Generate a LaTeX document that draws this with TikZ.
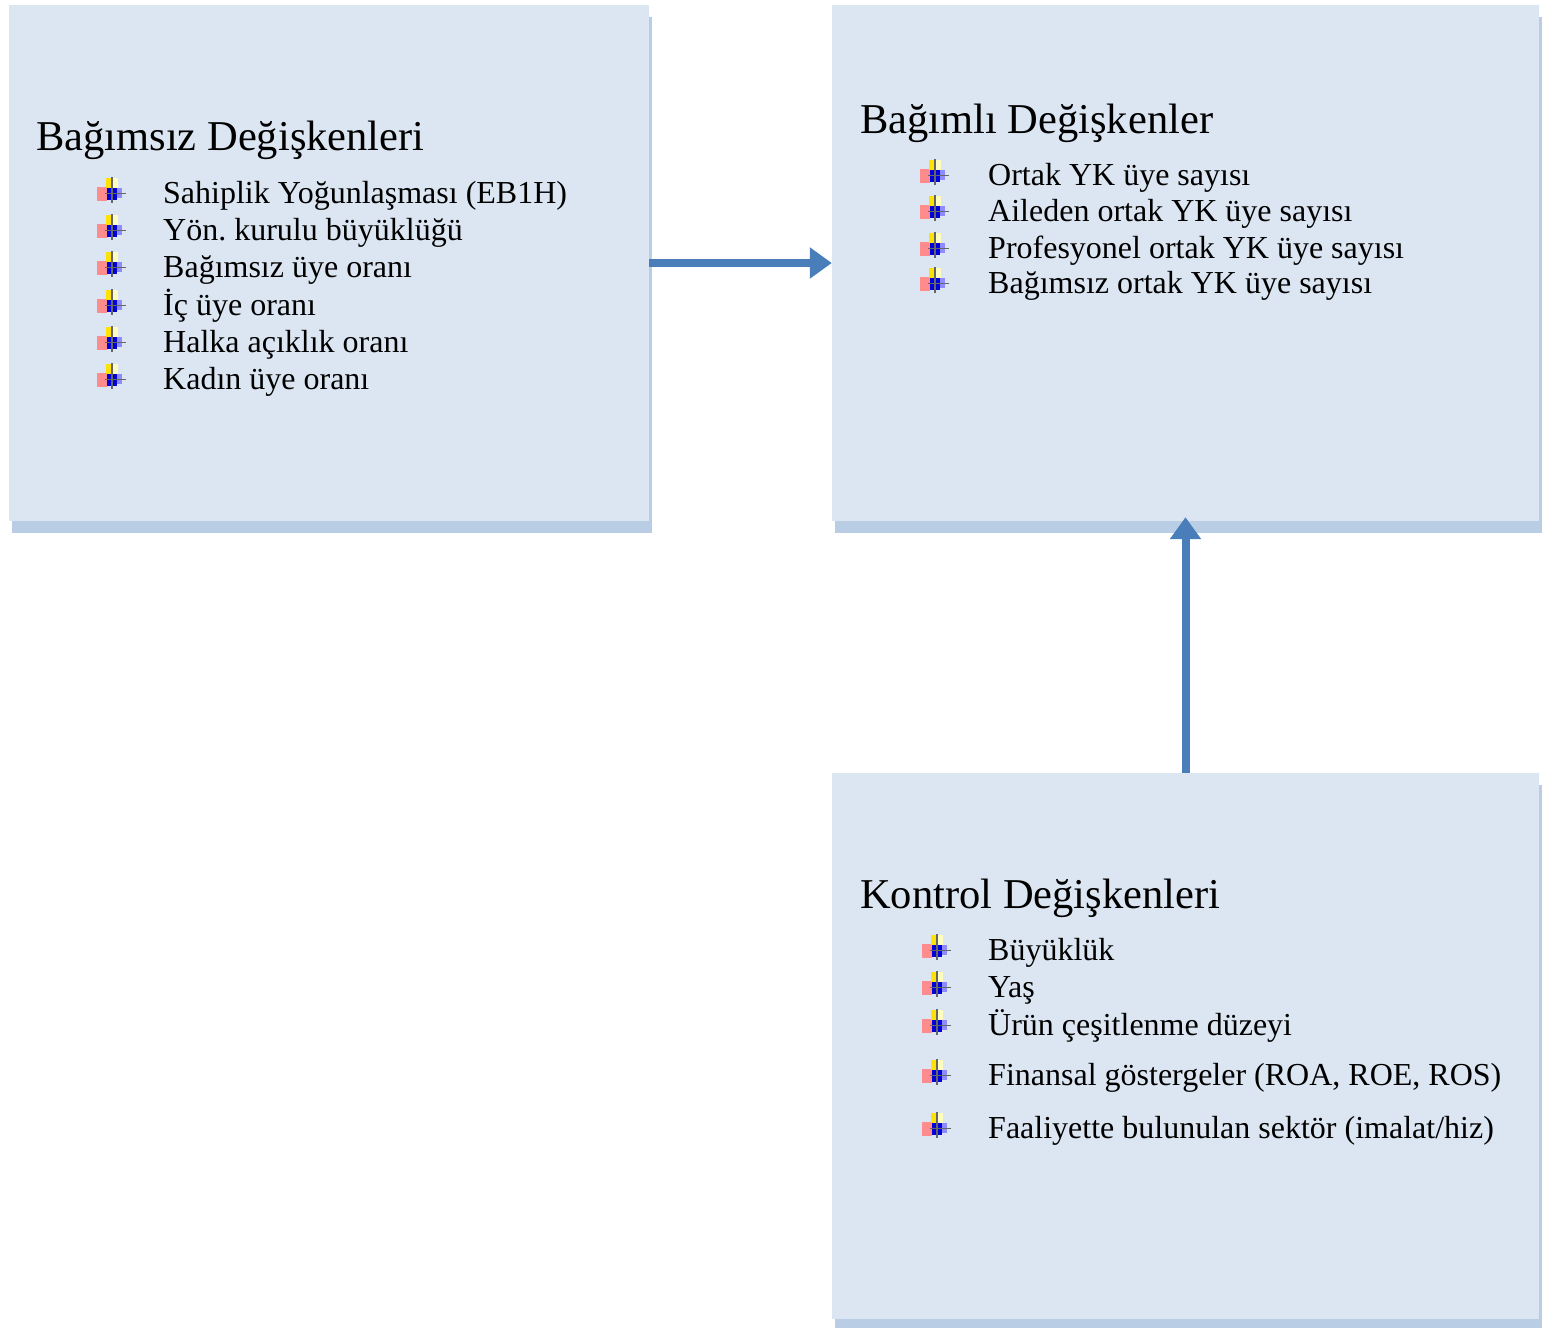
\documentclass[tikz,border=0pt]{standalone}
\usepackage{fontspec}
\setmainfont{Liberation Serif}
\usetikzlibrary{arrows.meta,shadows}
\definecolor{boxfill}{HTML}{DCE6F2}
\definecolor{boxshadow}{HTML}{B9CDE5}
\definecolor{arrowc}{HTML}{4A7EBB}
\frenchspacing
\tikzset{
  panel/.style={rectangle,fill=boxfill,inner sep=0pt,
    drop shadow={shadow xshift=3pt,shadow yshift=-12pt,fill=boxshadow,opacity=1}},
  heading/.style={anchor=base west,inner sep=0pt,font=\fontsize{42.5}{50}\selectfont},
  item/.style={anchor=base west,inner sep=0pt,font=\fontsize{32}{38}\selectfont},
  flow/.style={line width=8pt,draw=arrowc,-{Triangle[length=22pt,width=30pt]}},
  bul/.pic={
    \begin{scope}[scale=1.25]
    \fill[red!45] (-12,-4) rectangle (-4,7);
    \fill[yellow!85!orange] (-5,-11) rectangle (1,-3);
    \fill[yellow!25] (1,-11) rectangle (5,-3);
    \fill[blue!85!black] (-4,-3) rectangle (4,6);
    \fill[blue!45] (4,-3) rectangle (8,5);
    \draw[black!60,line width=1.5pt] (0,-12) -- (0,9);
    \draw[black!60,line width=1.5pt] (-6,1) -- (11,1);
    \end{scope}
  }
}
\begin{document}
\begin{tikzpicture}[x=1pt,y=-1pt]
\useasboundingbox (0,0) rectangle (1543,1328);
\node[panel,minimum width=640pt,minimum height=516pt] (b1) at (329,263) {};
\node[panel,minimum width=707pt,minimum height=516pt] (b2) at (1185.5,263) {};
\node[panel,minimum width=707pt,minimum height=546pt] (b3) at (1185.5,1046) {};

\draw[flow] (b1.east) -- (b2.west);
\draw[flow,shorten >=-4pt] (b3.north) -- (b2.south);

% Box 1
\node[heading] (t1) at (36,150) {Bağımsız Değişkenleri};
\foreach \y/\txt [count=\i] in {203/{Sahiplik Yoğunlaşması (EB1H)},240/{Yön. kurulu büyüklüğü},277/{Bağımsız üye oranı},315/{İç üye oranı},352/{Halka açıklık oranı},389/{Kadın üye oranı}}{
  \pic at (112,\y-11) {bul};
  \node[item] (a\i) at (163,\y) {\txt};
}
% Box 2
\node[heading] (t2) at (860,133) {Bağımlı Değişkenler};
\foreach \y/\txt [count=\i] in {185/{Ortak YK üye sayısı},221/{Aileden ortak YK üye sayısı},258/{Profesyonel ortak YK üye sayısı},293/{Bağımsız ortak YK üye sayısı}}{
  \pic at (935,\y-11) {bul};
  \node[item] (d\i) at (988,\y) {\txt};
}
% Box 3
\node[heading] (t3) at (860,908) {Kontrol Değişkenleri};
\foreach \y/\txt [count=\i] in {960/{Büyüklük},997/{Yaş},1035/{Ürün çeşitlenme düzeyi},1085/{Finansal göstergeler (ROA, ROE, ROS)},1138/{Faaliyette bulunulan sektör (imalat{/}hiz)}}{
  \pic at (937,\y-11) {bul};
  \node[item] (k\i) at (988,\y) {\txt};
}
\end{tikzpicture}
\end{document}
